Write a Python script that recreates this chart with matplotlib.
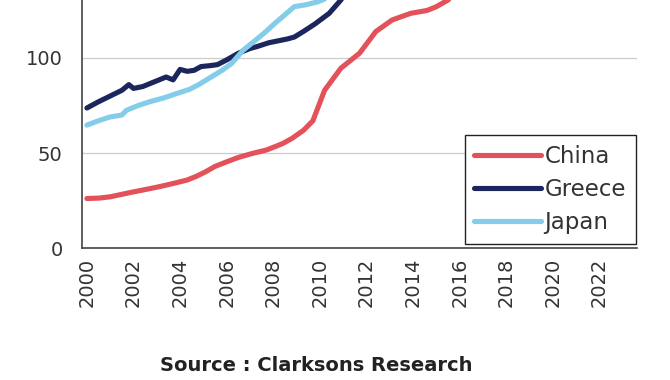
import matplotlib
matplotlib.use("Agg")
import matplotlib.pyplot as plt

# values (index, year -> value)
china_years = [2000.0, 2000.5, 2001.0, 2001.5, 2002.0, 2002.5, 2003.1, 2003.7, 2004.3, 2004.7,
               2005.1, 2005.5, 2006.0, 2006.5, 2007.1, 2007.7, 2008.1, 2008.4, 2008.8, 2009.3,
               2009.7, 2010.2, 2010.9, 2011.7, 2012.1, 2012.4, 2013.1, 2013.9, 2014.6, 2015.0,
               2015.5, 2015.8]
china_vals = [26.1, 26.3, 27, 28.3, 29.6, 30.8, 32.3, 34, 35.8, 37.8,
              40.2, 43, 45.4, 47.7, 49.8, 51.6, 53.5, 55, 57.7, 62,
              67, 83, 94.6, 102.5, 109, 113.9, 120, 123.5, 125, 127,
              130.5, 135]

greece_years = [2000.0, 2000.5, 2001.0, 2001.5, 2001.8, 2002.0, 2002.4, 2002.8, 2003.2, 2003.4,
                2003.7, 2004.0, 2004.3, 2004.6, 2004.9, 2005.3, 2005.6, 2006.0, 2006.5, 2007.0,
                2007.3, 2007.8, 2008.2, 2008.6, 2008.9, 2009.3, 2009.8, 2010.4, 2010.9, 2011.2]
greece_vals = [73.7, 77, 80, 83, 86, 84, 85, 87, 89, 90,
               88.5, 94, 93, 93.5, 95.5, 96, 96.5, 99, 102.5, 105,
               106, 108, 109, 110, 111, 114, 118, 123.5, 130.5, 136]

japan_years = [2000.0, 2000.5, 2001.0, 2001.5, 2001.7, 2002.2, 2002.7, 2003.3, 2003.9, 2004.4,
               2004.8, 2005.4, 2005.8, 2006.2, 2006.7, 2007.2, 2007.6, 2008.0, 2008.4, 2008.9,
               2009.4, 2009.9, 2010.3, 2010.6]
japan_vals = [64.7, 67, 69, 70, 72.5, 75, 77, 79, 81.5, 83.5,
              86, 90.5, 93.5, 97, 104, 109, 113, 117.5, 121.7, 127,
              128, 129.5, 131.5, 136]

year_ticks = list(range(2000, 2023, 2))
y_ticks = [0, 50, 100]

plt.rcParams['font.family'] = ['DejaVu Sans']

fig = plt.figure(figsize=(6.7, 3.8), dpi=100, facecolor='white')
ax = fig.add_axes([0.1224, 0.347, 0.828, 0.653])

ax.plot(china_years, china_vals, color='#E3525A', lw=3.7, label='China', solid_capstyle='round')
ax.plot(greece_years, greece_vals, color='#1B275C', lw=3.7, label='Greece', solid_capstyle='round')
ax.plot(japan_years, japan_vals, color='#84CDEA', lw=3.7, label='Japan', solid_capstyle='round')

ax.set_xlim(1999.79, 2023.6)
ax.set_ylim(0, 130.5)
ax.set_xticks(year_ticks)
ax.set_xticklabels([str(y) for y in year_ticks], rotation=90)
ax.set_yticks(y_ticks)
ax.tick_params(axis='y', length=0, pad=14, labelsize=14, labelcolor='#333333')
ax.tick_params(axis='x', length=0, pad=7, labelsize=14, labelcolor='#333333')

ax.grid(axis='y', color='#CCCCCC', lw=0.9)
ax.set_axisbelow(True)
for s in ['top', 'right']:
    ax.spines[s].set_visible(False)
for s in ['left', 'bottom']:
    ax.spines[s].set_color('#444444')
    ax.spines[s].set_linewidth(1.2)

leg = ax.legend(loc='lower right', bbox_to_anchor=(0.998, 0.016), fontsize=16.5,
                handlelength=2.9, handletextpad=0.15, labelspacing=0.45,
                borderpad=0.43, borderaxespad=0, fancybox=False, framealpha=1)
leg.get_frame().set_edgecolor('#222222')
leg.get_frame().set_linewidth(1.0)
for t in leg.get_texts():
    t.set_color('#333333')

fig.text(0.472, 0.037, 'Source : Clarksons Research', ha='center', va='center',
         fontsize=14, fontweight='bold', color='#222222')

fig.savefig('out.png', dpi=100, facecolor='white')
